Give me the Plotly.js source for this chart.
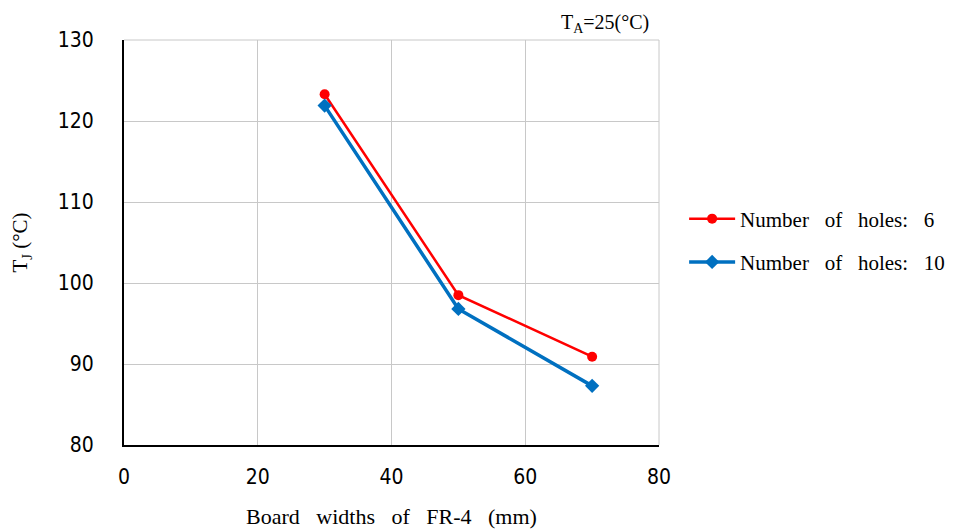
<!DOCTYPE html>
<html>
<head>
<meta charset="utf-8">
<script src="https://cdn.plot.ly/plotly-3.0.1.min.js"></script>
<style>html,body{margin:0;padding:0;background:#fff;}#chart{width:961px;height:529px;}</style>
</head>
<body>
<div id="chart"></div>
<script>
const boardWidths = [30, 50, 70];
const holes6 = [123.3, 98.5, 90.9];
const holes10 = [121.9, 96.8, 87.3];
const seriesNames = ["Number&nbsp;&nbsp; of&nbsp;&nbsp; holes:&nbsp;&nbsp; 6", "Number&nbsp;&nbsp; of&nbsp;&nbsp; holes:&nbsp;&nbsp; 10"];
const xTicks = [0, 20, 40, 60, 80];
const yTicks = [80, 90, 100, 110, 120, 130];

const traces = [
  {x: boardWidths, y: holes6, name: seriesNames[0], legendgroup: "a", mode: "lines+markers",
   line: {color: "#FF0000", width: 2.5}, marker: {symbol: "circle", size: 10, color: "#FF0000"}},
  {x: boardWidths, y: holes10, name: seriesNames[1], legendgroup: "b", mode: "lines+markers",
   line: {color: "#0070C0", width: 3.5}, marker: {symbol: "diamond", size: 11, color: "#0070C0"}}
];

const layout = {
  width: 961, height: 529,
  margin: {l: 124, r: 301, t: 40, b: 84},
  paper_bgcolor: "#fff", plot_bgcolor: "#fff",
  showlegend: true,
  legend: {x: 1.045, y: 0.505, xanchor: "left", yanchor: "middle", itemwidth: 46,
    font: {family: "Liberation Serif", size: 21, color: "#000"}, tracegroupgap: 13},
  xaxis: {range: [0, 80], tickvals: xTicks, showgrid: true, gridcolor: "#c8c8c8", gridwidth: 1,
    zeroline: false, showline: true, linecolor: "#000", linewidth: 2, ticks: "", ticklabelstandoff: 12,
    tickfont: {family: "DejaVu Sans Condensed", size: 21, color: "#000"},
    title: {text: "Board&nbsp;&nbsp; widths&nbsp;&nbsp; of&nbsp;&nbsp; FR-4&nbsp;&nbsp; (mm)", font: {family: "Liberation Serif", size: 22, color: "#000"}, standoff: 20}},
  yaxis: {range: [80, 130], tickvals: yTicks, showgrid: true, gridcolor: "#c8c8c8", gridwidth: 1,
    zeroline: false, showline: true, linecolor: "#000", linewidth: 2, ticks: "", ticklabelstandoff: 24,
    tickfont: {family: "DejaVu Sans Condensed", size: 21, color: "#000"},
    title: {text: "T<sub>J</sub> (°C)", font: {family: "Liberation Serif", size: 21, color: "#000"}, standoff: 24}},
  shapes: [
    {type: "line", xref: "paper", yref: "paper", x0: 0, x1: 1, y0: 1, y1: 1, line: {color: "#c8c8c8", width: 1}},
    {type: "line", xref: "paper", yref: "paper", x0: 1, x1: 1, y0: 0, y1: 1, line: {color: "#c8c8c8", width: 1}}
  ],
  annotations: [
    {xref: "paper", yref: "paper", x: 0.985, y: 1.005, xanchor: "right", yanchor: "bottom", showarrow: false,
     text: "T<sub>A</sub>=25(°C)", font: {family: "Liberation Serif", size: 20, color: "#000"}}
  ]
};

Plotly.newPlot("chart", traces, layout, {displayModeBar: false, staticPlot: true});
</script>
</body>
</html>
